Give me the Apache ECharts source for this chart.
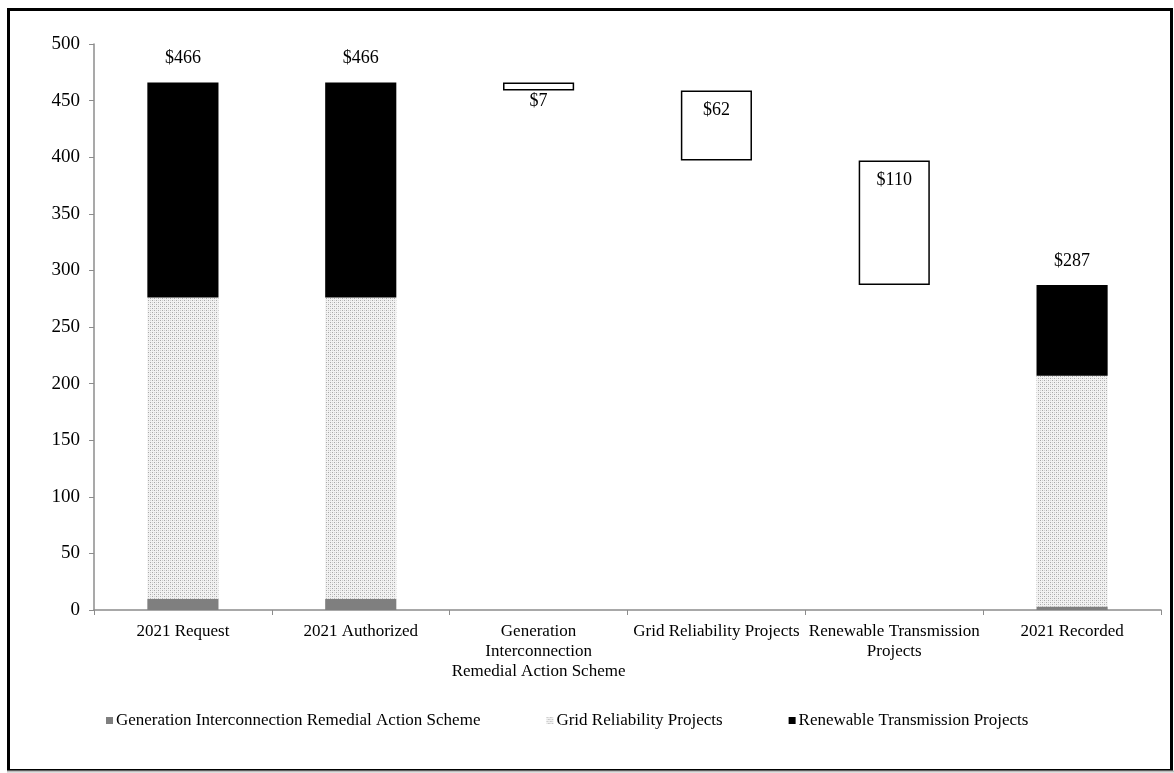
<!DOCTYPE html>
<html>
<head>
<meta charset="utf-8">
<script src="https://cdn.jsdelivr.net/npm/echarts@6/dist/echarts.min.js"></script>
<style>
  html, body { margin: 0; padding: 0; background: #fff; }
  #chart { width: 1174px; height: 773px; }
</style>
</head>
<body>
<div id="chart"></div>
<script>
// Transmission capital spending, 2021 (millions)
const categories = [
  '2021 Request',
  '2021 Authorized',
  'Generation\nInterconnection\nRemedial Action Scheme',
  'Grid Reliability Projects',
  'Renewable Transmission\nProjects',
  '2021 Recorded'
];
const girasValues = [10, 10, '-', '-', '-', 3];
const gridValues = [266, 266, '-', '-', '-', 204];
const renewableValues = [190, 190, '-', '-', '-', 80];
const changeValues = ['-', '-', 7, 62, 110, '-'];
const yTicks = [0, 50, 100, 150, 200, 250, 300, 350, 400, 450, 500];

const num = v => (v === '-' ? 0 : v);
const totals = categories.map((_, i) => num(girasValues[i]) + num(gridValues[i]) + num(renewableValues[i]));

// Floating steps start from the authorized total and step down
const baseValues = [];
let running = totals[1];
changeValues.forEach((v) => {
  if (v === '-') { baseValues.push('-'); return; }
  running -= v;
  baseValues.push(running);
});

// Dotted fill for the grid reliability segments
function dotPattern() {
  const c = document.createElement('canvas');
  c.width = 4; c.height = 4;
  const g = c.getContext('2d');
  g.fillStyle = '#f2f2f2';
  g.fillRect(0, 0, 4, 4);
  g.fillStyle = '#a8a8a8';
  g.fillRect(0, 0, 1, 1);
  g.fillRect(2, 2, 1, 1);
  g.fillStyle = '#d0d0d0';
  g.fillRect(2, 0, 1, 1);
  g.fillRect(0, 2, 1, 1);
  return c;
}
const dots = { image: dotPattern(), repeat: 'repeat' };

const serif = '"Liberation Serif", "Times New Roman", serif';
const chart = echarts.init(document.getElementById('chart'), null, { renderer: 'canvas' });

chart.setOption({
  animation: false,
  backgroundColor: '#fff',
  textStyle: { fontFamily: serif, color: '#000' },
  graphic: [
    { type: 'rect', shape: { x: 8.5, y: 9.5, width: 1163, height: 761 },
      style: { fill: 'none', stroke: '#000', lineWidth: 3 }, z: 100 },
    { type: 'line', shape: { x1: 7, y1: 771.5, x2: 1174, y2: 771.5 },
      style: { stroke: '#bdbdbd', lineWidth: 2 }, z: 101 }
  ],
  grid: { left: 94, right: 13, top: 44, bottom: 163 },
  legend: {
    top: 707,
    left: 101,
    itemWidth: 7,
    itemHeight: 7,
    itemGap: 66,
    icon: 'rect',
    textStyle: { fontFamily: serif, fontSize: 17, color: '#000', padding: [0, 0, 0, -2] },
    data: ['Generation Interconnection Remedial Action Scheme', 'Grid Reliability Projects', 'Renewable Transmission Projects']
  },
  xAxis: {
    type: 'category',
    data: categories,
    axisLine: { lineStyle: { color: '#8c8c8c', width: 1.5 } },
    axisTick: { show: true, length: 5, interval: 0, lineStyle: { color: '#8c8c8c' } },
    axisLabel: { interval: 0, fontFamily: serif, fontSize: 17, color: '#000', lineHeight: 20, margin: 12 }
  },
  yAxis: {
    type: 'value',
    min: yTicks[0],
    max: yTicks[yTicks.length - 1],
    interval: 50,
    splitLine: { show: false },
    axisLine: { show: true, lineStyle: { color: '#8c8c8c', width: 1.5 } },
    axisTick: { show: true, length: 5, lineStyle: { color: '#8c8c8c' } },
    axisLabel: { fontFamily: serif, fontSize: 19, color: '#000', margin: 14 }
  },
  series: [
    {
      name: 'base', type: 'bar', stack: 'w', barWidth: '40%',
      data: baseValues,
      itemStyle: { color: 'transparent' },
      silent: true, legendHoverLink: false
    },
    {
      name: 'Generation Interconnection Remedial Action Scheme', type: 'bar', stack: 'w',
      data: girasValues,
      itemStyle: { color: '#7f7f7f' }
    },
    {
      name: 'Grid Reliability Projects', type: 'bar', stack: 'w',
      data: gridValues,
      itemStyle: { color: dots }
    },
    {
      name: 'Renewable Transmission Projects', type: 'bar', stack: 'w',
      data: renewableValues,
      itemStyle: { color: '#000' },
      label: {
        show: true, position: 'top', distance: 15,
        fontFamily: serif, fontSize: 18, color: '#000',
        formatter: p => '$' + totals[p.dataIndex]
      }
    },
    {
      name: 'change', type: 'bar', stack: 'w',
      data: changeValues.map(v => (v === '-' ? '-' : {
        value: v,
        label: v < 20
          ? { show: true, position: 'bottom', distance: 2 }
          : { show: true, position: 'insideTop', distance: 11 }
      })),
      itemStyle: { color: '#fff', borderColor: '#000', borderWidth: 1.5 },
      label: {
        fontFamily: serif, fontSize: 18, color: '#000',
        formatter: p => '$' + p.value
      }
    }
  ]
});
</script>
</body>
</html>
